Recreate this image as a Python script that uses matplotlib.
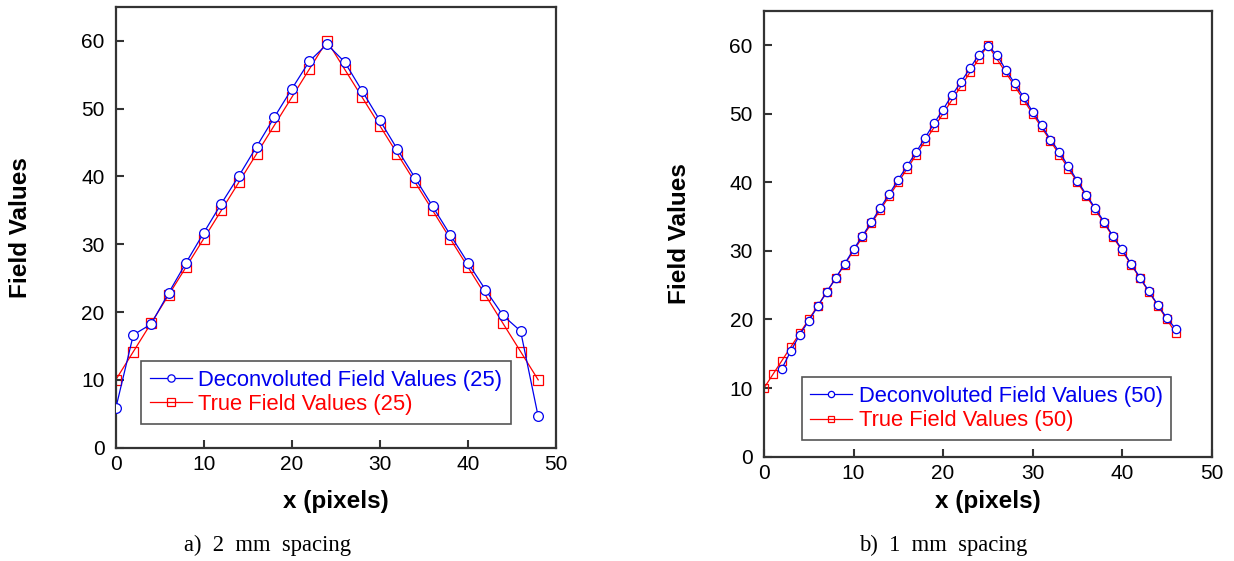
import numpy as np
import matplotlib
matplotlib.use('Agg')
import matplotlib.pyplot as plt

plt.rcParams['font.family'] = ['Liberation Sans', 'DejaVu Sans']

# a) 2 mm spacing, 25 samples
x_a = [0, 2, 4, 6, 8, 10, 12, 14, 16, 18, 20, 22, 24, 26, 28, 30, 32, 34, 36, 38, 40, 42, 44, 46, 48]
true_a = [10, 14.17, 18.33, 22.5, 26.67, 30.83, 35, 39.17, 43.33, 47.5, 51.67, 55.83, 60,
          55.83, 51.67, 47.5, 43.33, 39.17, 35, 30.83, 26.67, 22.5, 18.33, 14.17, 10]
deconv_a = [5.8, 16.65, 18.2, 22.8, 27.3, 31.7, 36.0, 40.1, 44.4, 48.7, 52.9, 57.0, 59.5,
            56.9, 52.6, 48.3, 44.0, 39.8, 35.6, 31.4, 27.3, 23.3, 19.5, 17.2, 4.6]

# b) 1 mm spacing, 50 samples
x_b_true = list(range(0, 47))
true_b = [10, 12, 14, 16, 18, 20, 22, 24, 26, 28, 30, 32, 34, 36, 38, 40, 42, 44, 46, 48, 50,
          52, 54, 56, 58, 60, 58, 56, 54, 52, 50, 48, 46, 44, 42, 40, 38, 36, 34, 32, 30,
          28, 26, 24, 22, 20, 18]
x_b_dec = list(range(2, 47))
deconv_b = [12.85, 15.4, 17.8, 19.8, 21.9, 24.0, 26.0, 28.1, 30.2, 32.2, 34.2, 36.3, 38.3,
            40.4, 42.4, 44.4, 46.5, 48.6, 50.6, 52.7, 54.6, 56.6, 58.6, 59.9, 58.6, 56.4,
            54.4, 52.4, 50.3, 48.3, 46.2, 44.4, 42.3, 40.2, 38.2, 36.2, 34.2, 32.1, 30.2,
            28.1, 26.1, 24.1, 22.1, 20.2, 18.6]

BLUE = '#0000ee'; RED = '#ff0000'; FRAME = '#333333'

fig = plt.figure(figsize=(12.34, 5.61), dpi=100)
axA = fig.add_axes([0.0938, 0.2020, 0.3566, 0.7856])
axB = fig.add_axes([0.6191, 0.1859, 0.3628, 0.7950])

panels = [
    (axA, x_a, deconv_a, x_a, true_a, '25', 7, (0.0575, 0.054), (-0.19, -0.096)),
    (axB, x_b_dec, deconv_b, x_b_true, true_b, '50', 6, (0.084, 0.037), (-0.163, -0.075)),
]
for ax, xd, yd, xt, yt, n, ms, anchor, lab in panels:
    ax.plot(xd, yd, '-o', color=BLUE, lw=0.9, ms=ms, mfc='white', mec=BLUE, mew=0.9,
            label=f'Deconvoluted Field Values ({n})', zorder=3)
    ax.plot(xt, yt, '-s', color=RED, lw=0.9, ms=ms, mfc='none', mec=RED, mew=0.9,
            label=f'True Field Values ({n})', zorder=2)
    ax.set_xlim(0, 50); ax.set_ylim(0, 65)
    ax.set_xticks([0, 10, 20, 30, 40, 50]); ax.set_yticks([0, 10, 20, 30, 40, 50, 60])
    ax.tick_params(direction='in', length=6, width=1.5, color=FRAME, labelsize=15,
                   top=False, right=False)
    ax.tick_params(axis='x', pad=5)
    ax.tick_params(axis='y', pad=8)
    for s in ax.spines.values():
        s.set_linewidth(1.6); s.set_color(FRAME)
    ax.set_xlabel('x (pixels)', fontsize=17.5, fontweight='bold')
    ax.set_ylabel('Field Values', fontsize=17.5, fontweight='bold')
    ax.yaxis.set_label_coords(lab[0], 0.5)
    ax.xaxis.set_label_coords(0.5, lab[1])
    leg = ax.legend(loc='lower left', bbox_to_anchor=anchor, borderaxespad=0, fontsize=15.8,
                    fancybox=False, framealpha=1, edgecolor='#555555', markerscale=0.75,
                    handlelength=1.9, handletextpad=0.3, borderpad=0.4, labelspacing=0.15)
    leg.get_frame().set_linewidth(1.2)
    for t, c in zip(leg.get_texts(), [BLUE, RED]):
        t.set_color(c)

fig.text(0.2164, 0.0285, 'a)  2  mm  spacing', family='Liberation Serif', fontsize=16.3,
         ha='center', va='center')
fig.text(0.764, 0.0285, 'b)  1  mm  spacing', family='Liberation Serif', fontsize=16.3,
         ha='center', va='center')

fig.savefig('out.png', dpi=100)
